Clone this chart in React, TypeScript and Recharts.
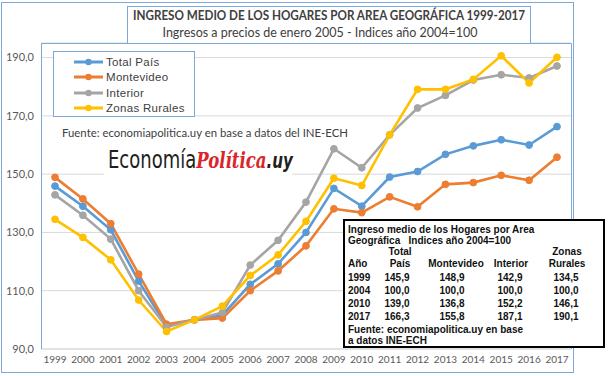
import { LineChart, Line, XAxis, YAxis, CartesianGrid, Legend } from 'recharts';

const years = ['1999', '2000', '2001', '2002', '2003', '2004', '2005', '2006', '2007', '2008', '2009', '2010', '2011', '2012', '2013', '2014', '2015', '2016', '2017'];
const totalPais = [145.9, 139.0, 130.9, 113.3, 97.9, 100.0, 101.6, 112.2, 119.2, 130.0, 145.1, 139.0, 149.0, 150.9, 156.8, 159.7, 161.8, 160.0, 166.3];
const montevideo = [148.9, 141.5, 133.0, 115.7, 98.5, 100.0, 100.6, 110.0, 116.8, 125.4, 138.1, 136.8, 142.2, 138.8, 146.5, 147.1, 149.6, 147.9, 155.8];
const interior = [142.9, 135.9, 127.7, 110.0, 97.5, 100.0, 102.5, 118.8, 127.3, 140.4, 158.7, 152.2, 163.5, 172.7, 177.0, 182.3, 184.1, 183.0, 187.1];
const rurales = [134.5, 128.3, 120.6, 106.8, 96.0, 100.0, 104.7, 115.2, 122.3, 133.8, 148.6, 146.1, 163.5, 179.1, 179.1, 182.5, 190.6, 181.3, 190.1];
const yTicks = [90, 110, 130, 150, 170, 190];

// summary table (inset box)
const tableYears = ['1999', '2004', '2010', '2017'];
const tableTotal = [145.9, 100.0, 139.0, 166.3];
const tableMvd = [148.9, 100.0, 136.8, 155.8];
const tableInterior = [142.9, 100.0, 152.2, 187.1];
const tableRurales = [134.5, 100.0, 146.1, 190.1];

const series = [
  { key: 'total', name: 'Total País', color: '#5b9bd5' },
  { key: 'mvd', name: 'Montevideo', color: '#ed7d31' },
  { key: 'interior', name: 'Interior', color: '#a5a5a5' },
  { key: 'rurales', name: 'Zonas Rurales', color: '#ffc000' },
];

const rows = years.map((y, i) => ({
  year: y,
  total: totalPais[i],
  mvd: montevideo[i],
  interior: interior[i],
  rurales: rurales[i],
}));

const fmt = (v: number) => v.toFixed(1).replace('.', ',');
const frameBlue = '#7ea7da';

function LegendBox() {
  return (
    <div style={{ width: 140, height: 62, border: `1px solid ${frameBlue}`, background: '#fff', padding: '2px 0 0 0', boxSizing: 'content-box' }}>
      {series.map((s) => (
        <div key={s.key} style={{ display: 'flex', alignItems: 'center', height: 15.5 }}>
          <svg width={52} height={10} style={{ flex: 'none' }}>
            <line x1={20} y1={5} x2={49} y2={5} stroke={s.color} strokeWidth={3} />
            <circle cx={34.5} cy={5} r={3.2} fill={s.color} />
          </svg>
          <span style={{ fontFamily: '"Liberation Sans", Arial, sans-serif', fontSize: 11.5, color: '#404040', letterSpacing: 0.3 }}>{s.name}</span>
        </div>
      ))}
    </div>
  );
}

export default function App() {
  const tf = '"Liberation Sans", Arial, sans-serif';
  return (
    <div style={{ position: 'absolute', left: 0, top: 0, width: 611, height: 376, background: '#fff', overflow: 'hidden' }}>
      <LineChart width={611} height={376} data={rows} margin={{ top: 43, right: 40, bottom: 0, left: 0 }}>
        <CartesianGrid vertical={false} stroke="#d9d9d9" strokeWidth={1} />
        <XAxis
          dataKey="year"
          height={27}
          interval={0}
          padding={{ left: 14, right: 14 }}
          axisLine={{ stroke: '#d9d9d9' }}
          tickLine={false}
          tickSize={0}
          tickMargin={7}
          tick={{ fontSize: 10, fill: '#595959', fontFamily: 'Lato' }}
        />
        <YAxis
          domain={[90, 195]}
          ticks={yTicks}
          width={41}
          axisLine={false}
          tickLine={false}
          tickSize={0}
          tickMargin={7}
          tickFormatter={fmt}
          tick={{ fontSize: 11, fill: '#595959', fontFamily: 'Lato' }}
        />
        {series.map((s) => (
          <Line
            key={s.key}
            dataKey={s.key}
            name={s.name}
            stroke={s.color}
            strokeWidth={2.6}
            dot={{ r: 3.4, fill: s.color, stroke: s.color, strokeWidth: 1 }}
            isAnimationActive={false}
          />
        ))}
        <Legend
          layout="vertical"
          align="center"
          verticalAlign="middle"
          content={() => <LegendBox />}
          wrapperStyle={{ position: 'absolute', left: 53, top: 51, width: 142, height: 64 }}
        />
      </LineChart>

      <svg width={611} height={376} style={{ position: 'absolute', left: 0, top: 0, pointerEvents: 'none' }}>
        {/* outer frame */}
        <rect x={1.5} y={2.5} width={572} height={370} fill="none" stroke={frameBlue} strokeWidth={1} />
        {/* plot area border */}
        <path d="M41.5 349 V43.5 H571.5 V349" fill="none" stroke={frameBlue} strokeWidth={1} />
        {/* title box */}
        <rect x={127.5} y={6.5} width={403} height={37} fill="#fff" stroke={frameBlue} strokeWidth={1} />
        <text x={329} y={20} textAnchor="middle" fontFamily="Lato" fontWeight={700} fontSize={12.5} fill="#404040" textLength={392} lengthAdjust="spacingAndGlyphs">
          INGRESO  MEDIO  DE LOS HOGARES  POR AREA GEOGRÁFICA  1999-2017
        </text>
        <text x={320} y={37} textAnchor="middle" fontFamily="Lato" fontSize={12.5} fill="#404040" textLength={315} lengthAdjust="spacingAndGlyphs">
          Ingresos a precios de enero 2005  - Indices año 2004=100
        </text>

        {/* source note */}
        <text x={62} y={137} fontFamily="Lato" fontSize={12} fill="#404040" textLength={286} lengthAdjust="spacingAndGlyphs">
          Fuente: economiapolitica.uy  en base a datos  del INE-ECH
        </text>

        {/* logo */}
        <rect x={104} y={146} width={188} height={32} fill="#fff" />
        <text transform="translate(108,168) scale(0.72,1)" fontSize={25} fill="#231f20" fontFamily="DejaVu Sans">
          <tspan>Economía</tspan>
          <tspan fontFamily="DejaVu Serif" fontStyle="italic" fontWeight={700} fontSize={23} fill="#d8262b">Política</tspan>
          <tspan fontStyle="italic" fontWeight={700} fontSize={21}>.uy</tspan>
        </text>

        {/* inset table */}
        <rect x={344} y={220} width={260} height={127} fill="#fff" stroke="#000" strokeWidth={2} />
        <g fontFamily={tf} fontWeight={700} fontSize={10} fill="#111">
          <text x={348} y={233}>Ingreso medio de los Hogares por Area</text>
          <text x={348} y={244} xmlSpace="preserve">Geográfica   Indices año 2004=100</text>
          <text x={400} y={255} textAnchor="middle">Total</text>
          <text x={567} y={255} textAnchor="middle">Zonas</text>
          <text x={348} y={267}>Año</text>
          <text x={400} y={267} textAnchor="middle">País</text>
          <text x={456} y={267} textAnchor="middle">Montevideo</text>
          <text x={511} y={267} textAnchor="middle">Interior</text>
          <text x={567} y={267} textAnchor="middle">Rurales</text>
          {tableYears.map((y, i) => (
            <g key={y}>
              <text x={348} y={281 + i * 13}>{y}</text>
              <text x={397} y={281 + i * 13} textAnchor="middle">{fmt(tableTotal[i])}</text>
              <text x={452} y={281 + i * 13} textAnchor="middle">{fmt(tableMvd[i])}</text>
              <text x={510} y={281 + i * 13} textAnchor="middle">{fmt(tableInterior[i])}</text>
              <text x={566} y={281 + i * 13} textAnchor="middle">{fmt(tableRurales[i])}</text>
            </g>
          ))}
          <text x={348} y={333}>Fuente: economiapolitica.uy en base</text>
          <text x={348} y={344}>a datos INE-ECH</text>
        </g>
      </svg>
    </div>
  );
}
